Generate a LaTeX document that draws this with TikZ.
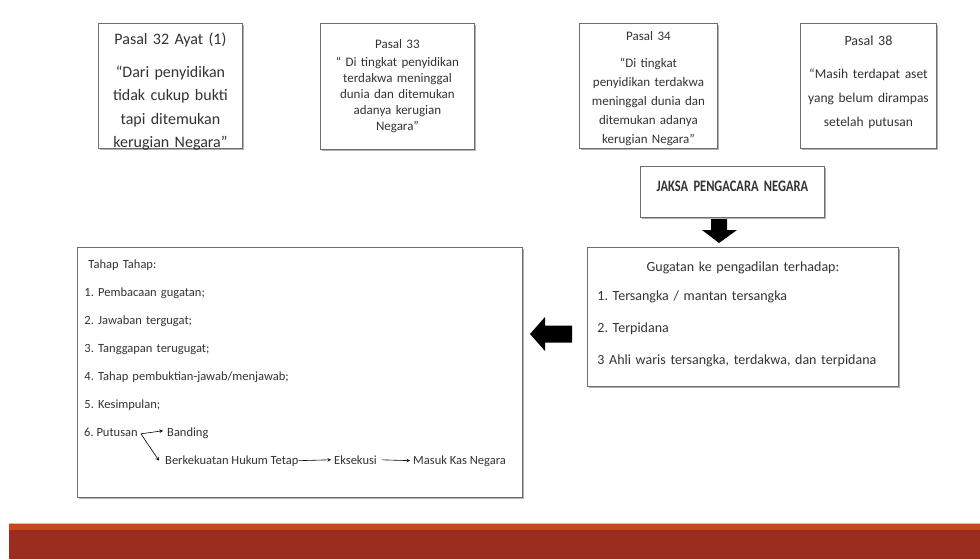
\documentclass[tikz,border=0pt]{standalone}
\usepackage{fontspec}
\setmainfont{Carlito}
\newfontfamily\jaksafont[FakeStretch=0.78]{Carlito}
\usetikzlibrary{shadows}
\frenchspacing

\definecolor{txtgray}{HTML}{333333}
\definecolor{boxgray}{HTML}{6E6E6E}
\definecolor{bandred}{HTML}{9B2C20}
\definecolor{bandorange}{HTML}{C9471F}

\newcommand{\fs}[2]{\fontsize{#1}{#2}\selectfont}

\tikzset{
  kotak/.style={draw=boxgray, line width=0.9pt, fill=white, anchor=north west,
    inner xsep=0pt, inner ysep=0pt, align=center, text=txtgray,
    drop shadow={shadow xshift=1.2pt, shadow yshift=-1.2pt, opacity=0.3, fill=black}},
  teks/.style={anchor=base west, inner sep=0pt, text=txtgray, font=\fs{12.5}{15}},
  kecil/.style={-stealth, line width=0.6pt, black},
}

\begin{document}
\begin{tikzpicture}[x=1pt, y=-1pt]
    \useasboundingbox (0,0) rectangle (980,559);

    % pasal boxes
    \node[kotak, text width=144pt, text height=21pt, text depth=104pt, font=\fs{16}{23.5}] (p32) at (98,23)
        {Pasal 32 Ayat (1)\\[9.5pt] “Dari penyidikan\\ tidak cukup bukti\\ tapi ditemukan\\ kerugian Negara”};
    \node[kotak, text width=154pt, text height=25.5pt, text depth=100.5pt, font=\fs{13}{16}] (p33) at (320,23)
        {Pasal 33\\[2pt] “ Di tingkat penyidikan\\ terdakwa meninggal\\ dunia dan ditemukan\\ adanya kerugian\\ Negara”};
    \node[kotak, text width=138pt, text height=17pt, text depth=108pt, font=\fs{13}{19}] (p34) at (579,23)
        {Pasal 34\\[8pt] “Di tingkat\\ penyidikan terdakwa\\ meninggal dunia dan\\ ditemukan adanya\\ kerugian Negara”};
    \node[kotak, text width=136pt, text height=22pt, text depth=103pt, font=\fs{14}{24}] (p38) at (800,23)
        {Pasal 38\\[9pt] {\fs{13.5}{24}“Masih terdapat aset\\ yang belum dirampas\\ setelah putusan}};

    % jaksa and gugatan
    \node[kotak, text width=184pt, text height=25pt, text depth=26pt, font=\jaksafont\bfseries\fs{16}{18}] (jpn) at (640,166)
        {JAKSA PENGACARA NEGARA};
    \fill (711,219) -- (727,219) -- (727,230) -- (737,230) -- (719,243) -- (702,230) -- (711,230) -- cycle;
    \node[kotak, align=left, inner xsep=10pt, text width=291pt, text height=24pt, text depth=115pt, font=\fs{14}{32}] (gug) at (587,247)
        {\makebox[291pt]{Gugatan ke pengadilan terhadap:}\\[-3pt]
         1. Tersangka / mantan tersangka\\ 2. Terpidana\\ 3 Ahli waris tersangka, terdakwa, dan terpidana};
    \fill (572,325.5) -- (572,342.5) -- (545,342.5) -- (545,351) -- (530,334) -- (545,317) -- (545,325.5) -- cycle;

    % tahap tahap
    \node[kotak, align=left, inner xsep=7pt, text width=431pt, text height=21pt, text depth=229pt, font=\fs{12.5}{28}] (tahap) at (77,247)
        {\hspace*{4pt}Tahap Tahap:\\ 1. Pembacaan gugatan;\\ 2. Jawaban tergugat;\\ 3. Tanggapan terugugat;\\
         4. Tahap pembuktian-jawab/menjawab;\\ 5. Kesimpulan;};
    \node[teks] (put) at (84,436) {6. Putusan};
    \node[teks] (band) at (167,436) {Banding};
    \node[teks] (berk) at (165,464) {Berkekuatan Hukum Tetap};
    \node[teks] (eks) at (334,464) {Eksekusi};
    \node[teks] (kas) at (413,464) {Masuk Kas Negara};

    \draw[kecil] ([xshift=3pt, yshift=-2pt]put.east) -- ([xshift=-4pt, yshift=2pt]band.west);
    \draw[kecil] ([xshift=3pt, yshift=-2pt]put.east) -- ([xshift=-6pt]berk.west);
    \draw[kecil, shorten >=3pt] (berk.east) -- (eks.west);
    \draw[kecil, shorten <=5pt, shorten >=3pt] (eks.east) -- (kas.west);

    % bottom band
    \fill[bandred] (9,523) rectangle (980,559);
    \fill[bandorange] (9,523) rectangle (980,530);
    \draw[bandorange!40!white, line width=0.6pt] (9,523) -- (980,523);
\end{tikzpicture}
\end{document}
